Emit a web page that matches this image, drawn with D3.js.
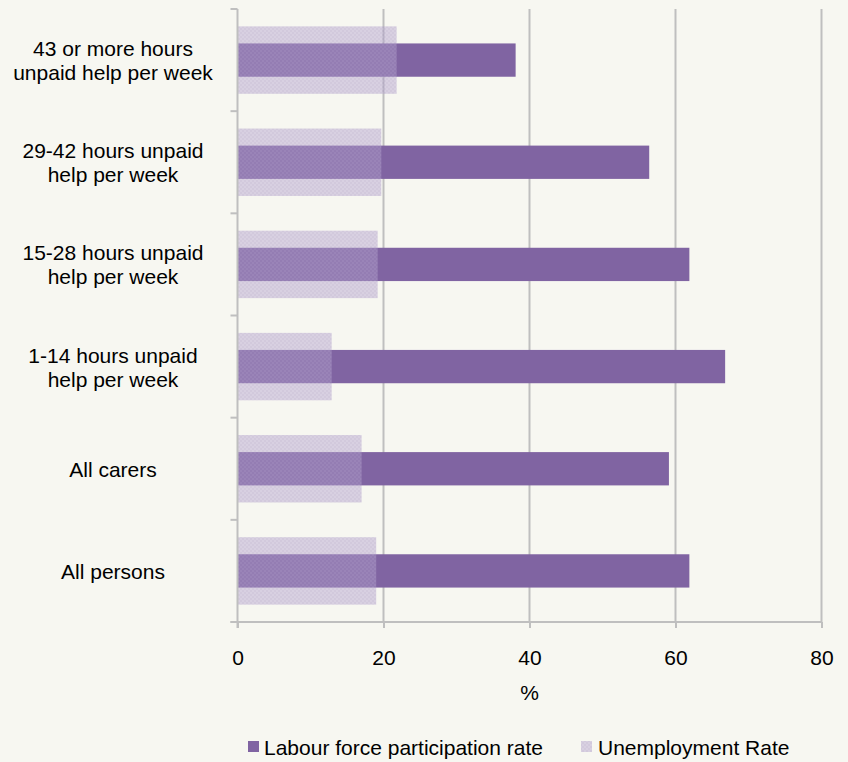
<!DOCTYPE html>
<html><head><meta charset="utf-8">
<script src="https://cdn.jsdelivr.net/npm/d3@7"></script>
<style>
html,body{margin:0;padding:0;background:#f7f7f1;}
svg{display:block;font-family:"Liberation Sans",Arial,sans-serif;}
</style></head>
<body><div id="chart"></div>
<script>
const categories = [
  ["43 or more hours","unpaid help per week"],
  ["29-42 hours unpaid","help per week"],
  ["15-28 hours unpaid","help per week"],
  ["1-14 hours unpaid","help per week"],
  ["All carers"],
  ["All persons"]
];
const categoryKeys = ["43+","29-42","15-28","1-14","All carers","All persons"];
const participationRate = [38.1, 56.4, 61.9, 66.8, 59.1, 61.9];
const unemploymentRate = [21.8, 19.7, 19.2, 12.9, 17.0, 19.0];
const xTicks = [0, 20, 40, 60, 80];
const legendLabels = ["Labour force participation rate", "Unemployment Rate"];

const FS = 21;
const W = 848, H = 762;
const m = {left: 237.5, right: 26.5, top: 9, bottom: 140};
const svg = d3.select("#chart").append("svg").attr("width", W).attr("height", H);
svg.append("rect").attr("width", W).attr("height", H).attr("fill", "#f7f7f1");

const defs = svg.append("defs");
const pat = defs.append("pattern").attr("id","hatch").attr("patternUnits","userSpaceOnUse")
  .attr("width",4).attr("height",4);
pat.append("rect").attr("width",4).attr("height",4).attr("fill","#b6a6cf");
pat.append("rect").attr("width",2).attr("height",2).attr("fill","#aa98c6");
pat.append("rect").attr("x",2).attr("y",2).attr("width",2).attr("height",2).attr("fill","#aa98c6");

const x = d3.scaleLinear().domain([0, 80]).range([m.left, W - m.right]);
const y = d3.scaleBand().domain(categoryKeys).range([m.top, H - m.bottom]).paddingInner(0).paddingOuter(0);

const gridColor = "#bfbfbf";
svg.append("g").selectAll("line").data(xTicks.slice(1)).join("line")
  .attr("x1", d => x(d)).attr("x2", d => x(d))
  .attr("y1", m.top).attr("y2", H - m.bottom)
  .attr("stroke", gridColor).attr("stroke-width", 2);

const bw = y.bandwidth();
svg.append("g").selectAll("rect").data(participationRate).join("rect")
  .attr("x", x(0)).attr("y", (d,i) => y(categoryKeys[i]) + bw/2 - bw*0.163)
  .attr("width", d => x(d) - x(0)).attr("height", bw*0.326)
  .attr("fill", "#8064a2");
svg.append("g").selectAll("rect").data(unemploymentRate).join("rect")
  .attr("x", x(0)).attr("y", (d,i) => y(categoryKeys[i]) + bw/2 - bw*0.33)
  .attr("width", d => x(d) - x(0)).attr("height", bw*0.66)
  .attr("fill", "url(#hatch)").attr("opacity", 0.48);

const xAxis = d3.axisBottom(x).tickValues(xTicks).tickSize(6).tickPadding(22).tickSizeOuter(0);
const gx = svg.append("g").attr("transform", `translate(0,${H - m.bottom})`).call(xAxis);
gx.select(".domain").remove();
gx.append("line").attr("x1", m.left - 7).attr("x2", x(80)).attr("y1",0).attr("y2",0)
  .attr("stroke", gridColor).attr("stroke-width", 2);
gx.selectAll(".tick line").attr("stroke", gridColor).attr("stroke-width", 2);
gx.selectAll(".tick text").attr("fill", "#000").attr("font-size", FS)
  .attr("font-family", '"Liberation Sans",Arial,sans-serif');

svg.append("line").attr("x1", m.left).attr("x2", m.left).attr("y1", m.top).attr("y2", H - m.bottom + 6)
  .attr("stroke", gridColor).attr("stroke-width", 2);
const bounds = categoryKeys.map(k => y(k)).concat([H - m.bottom]);
svg.append("g").selectAll("line").data(bounds).join("line")
  .attr("x1", m.left - 7).attr("x2", m.left).attr("y1", d => d).attr("y2", d => d)
  .attr("stroke", gridColor).attr("stroke-width", 2);

const lab = svg.append("g").selectAll("text").data(categories).join("text")
  .attr("x", 113).attr("text-anchor", "middle").attr("font-size", FS).attr("fill", "#000")
  .attr("y", (d,i) => y(categoryKeys[i]) + bw/2 + 8 - (d.length - 1) * 12);
lab.selectAll("tspan").data(d => d).join("tspan")
  .attr("x", 113).attr("dy", (d,j) => j === 0 ? 0 : 24).text(d => d);

svg.append("text").attr("x", x(40)).attr("y", 700).attr("text-anchor","middle")
  .attr("font-size", FS).text("%");

const lg = svg.append("g");
lg.append("rect").attr("x", 248).attr("y", 741).attr("width", 11).attr("height", 11).attr("fill", "#8064a2");
lg.append("text").attr("x", 264).attr("y", 755).attr("font-size", FS).text(legendLabels[0]);
lg.append("rect").attr("x", 581).attr("y", 741).attr("width", 11).attr("height", 11).attr("fill", "url(#hatch)").attr("opacity",0.48);
lg.append("text").attr("x", 598).attr("y", 755).attr("font-size", FS).text(legendLabels[1]);
</script></body></html>
